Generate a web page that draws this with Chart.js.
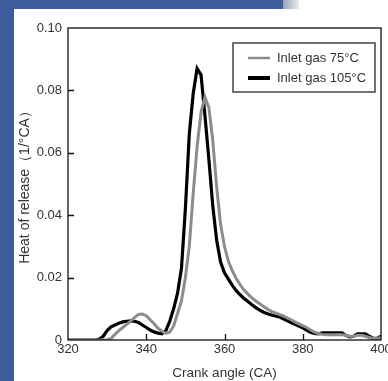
<!DOCTYPE html>
<html>
<head>
<meta charset="utf-8">
<script src="https://cdn.jsdelivr.net/npm/chart.js@4.4.1/dist/chart.umd.min.js"></script>
<style>
  html, body { margin: 0; padding: 0; width: 388px; height: 381px; overflow: hidden; background: #fff; }
  #left { position: absolute; left: 0; top: 0; width: 14px; height: 381px; background: #3d5c9c; }
  #top { position: absolute; left: 0; top: 0; width: 283px; height: 9px; background: #3d5c9c; }
  #fade { position: absolute; left: 283px; top: 0; width: 16px; height: 9px; background: linear-gradient(to right, #98a2b8, #ececec); }
  #wrap { position: absolute; left: 0; top: 0; width: 400px; height: 381px; }
</style>
</head>
<body>
<div id="left"></div>
<div id="top"></div>
<div id="fade"></div>
<div id="wrap"><canvas id="hrr" width="400" height="381"></canvas></div>
<script>
// crank angle (deg CA)
const crankAngles = [
  320, 321, 322, 323, 324, 325, 326, 327, 328, 329,
  330, 331, 332, 333, 334, 335, 336, 337, 338, 339,
  340, 341, 342, 343, 344, 345, 346, 347, 348, 349,
  350, 351, 352, 353, 354, 355, 356, 357, 358, 359,
  360, 361, 362, 363, 364, 365, 366, 367, 368, 369,
  370, 371, 372, 373, 374, 375, 376, 377, 378, 379,
  380, 381, 382, 383, 384, 385, 386, 387, 388, 389,
  390, 391, 392, 393, 394, 395, 396, 397, 398, 399, 400
];

// heat of release, inlet gas 75 C
const inlet75 = [
  0, 0, 0, 0, 0, 0, 0, 0, 0, 0,
  0, 0.0005, 0.0018, 0.0030, 0.0040, 0.0050, 0.0060, 0.0072, 0.0082, 0.0083,
  0.0078, 0.0065, 0.0052, 0.0038, 0.0028, 0.0022, 0.0025, 0.0045, 0.0085, 0.0125,
  0.0200, 0.0300, 0.0470, 0.0620, 0.0730, 0.0778, 0.0745, 0.0640, 0.0490, 0.0370,
  0.0300, 0.0252, 0.0222, 0.0197, 0.0177, 0.0160, 0.0147, 0.0135, 0.0125, 0.0116,
  0.0107, 0.0099, 0.0092, 0.0087, 0.0082, 0.0077, 0.0071, 0.0065, 0.0058, 0.0052,
  0.0046, 0.0040, 0.0032, 0.0025, 0.0021, 0.0018, 0.0017, 0.0017, 0.0017, 0.0017,
  0.0017, 0.0015, 0.0012, 0.0012, 0.0015, 0.0015, 0.0012, 0.0008, 0.0005, 0.0005, 0.0008
];

// heat of release, inlet gas 105 C
const inlet105 = [
  0, 0, 0, 0, 0, 0, 0, 0, 0.0003, 0.0012,
  0.0030, 0.0042, 0.0048, 0.0054, 0.0058, 0.0060, 0.0061, 0.0060, 0.0056, 0.0048,
  0.0040, 0.0032, 0.0026, 0.0022, 0.0020, 0.0030, 0.0060, 0.0100, 0.0150, 0.0230,
  0.0420, 0.0660, 0.0790, 0.0870, 0.0850, 0.0720, 0.0580, 0.0430, 0.0320, 0.0250,
  0.0215, 0.0195, 0.0175, 0.0158, 0.0145, 0.0133, 0.0123, 0.0113, 0.0104, 0.0096,
  0.0089, 0.0084, 0.0080, 0.0077, 0.0074, 0.0068, 0.0062, 0.0056, 0.0050, 0.0045,
  0.0039, 0.0032, 0.0025, 0.0021, 0.0020, 0.0023, 0.0023, 0.0023, 0.0023, 0.0023,
  0.0023, 0.0015, 0.0010, 0.0012, 0.0020, 0.0020, 0.0020, 0.0012, 0.0005, 0.0005, 0.0012
];

const seriesLabels = ["Inlet gas 75\u00b0C", "Inlet gas 105\u00b0C"];
const xTicks = [320, 340, 360, 380, 400];
const yTicks = [0, 0.02, 0.04, 0.06, 0.08, 0.10];

const tickFont = { family: "Liberation Sans, Arial, sans-serif", size: 13 };

// frame round the plot, inward ticks and the boxed legend
const framePlugin = {
  id: "frame",
  afterDraw(chart) {
    const { ctx, chartArea: a, scales } = chart;
    ctx.save();
    ctx.strokeStyle = "#111";
    ctx.lineWidth = 1.3;
    ctx.strokeRect(a.left, a.top, a.right - a.left, a.bottom - a.top);

    ctx.beginPath();
    scales.y.ticks.forEach((t) => {
      if (t.value <= 0 || t.value >= 0.1) return;
      const py = Math.round(scales.y.getPixelForValue(t.value)) + 0.5;
      ctx.moveTo(a.left, py);
      ctx.lineTo(a.left + 6, py);
    });
    scales.x.ticks.forEach((t) => {
      if (t.value <= 320 || t.value >= 400) return;
      const px = Math.round(scales.x.getPixelForValue(t.value)) + 0.5;
      ctx.moveTo(px, a.bottom);
      ctx.lineTo(px, a.bottom - 6);
    });
    ctx.stroke();

    // legend
    const bx = 233, by = 43, bw = 142, bh = 49;
    ctx.fillStyle = "#fff";
    ctx.fillRect(bx, by, bw, bh);
    ctx.strokeStyle = "#444";
    ctx.lineWidth = 1.5;
    ctx.strokeRect(bx, by, bw, bh);
    ctx.font = "13px Liberation Sans, Arial, sans-serif";
    ctx.textBaseline = "middle";
    ctx.textAlign = "left";
    const rows = [
      { y: 58, color: "#8c8c8c", w: 2.5 },
      { y: 78, color: "#000", w: 4 }
    ];
    chart.data.datasets.forEach((ds, i) => {
      const r = rows[i];
      ctx.strokeStyle = r.color;
      ctx.lineWidth = r.w;
      ctx.beginPath();
      ctx.moveTo(248, r.y);
      ctx.lineTo(270, r.y);
      ctx.stroke();
      ctx.fillStyle = "#333";
      ctx.fillText(ds.label, 277, r.y);
    });
    ctx.restore();
  }
};

new Chart(document.getElementById("hrr"), {
  type: "line",
  data: {
    datasets: [
      {
        label: seriesLabels[0],
        data: crankAngles.map((x, i) => ({ x: x, y: inlet75[i] })),
        borderColor: "#8c8c8c",
        borderWidth: 3,
        pointRadius: 0,
        tension: 0
      },
      {
        label: seriesLabels[1],
        data: crankAngles.map((x, i) => ({ x: x, y: inlet105[i] })),
        borderColor: "#000",
        borderWidth: 3.2,
        pointRadius: 0,
        tension: 0
      }
    ]
  },
  options: {
    responsive: false,
    animation: false,
    layout: { padding: { top: 28, right: 19, left: 0, bottom: 0 } },
    plugins: { legend: { display: false }, tooltip: { enabled: false } },
    scales: {
      x: {
        type: "linear",
        min: 320,
        max: 400,
        afterBuildTicks: (s) => { s.ticks = xTicks.map((v) => ({ value: v })); },
        afterFit: (s) => { s.height = 41; },
        grid: { display: false, drawTicks: false },
        border: { display: false },
        ticks: { color: "#333", font: tickFont, padding: 2, maxRotation: 0 },
        title: {
          display: true,
          text: "Crank angle (CA)",
          color: "#333",
          font: { family: "Liberation Sans, Arial, sans-serif", size: 13.5 },
          padding: { top: 0, bottom: 0 }
        }
      },
      y: {
        min: 0,
        max: 0.1,
        afterBuildTicks: (s) => { s.ticks = yTicks.map((v) => ({ value: v })); },
        afterFit: (s) => { s.width = 68; },
        grid: { display: false, drawTicks: false },
        border: { display: false },
        ticks: {
          color: "#333",
          font: tickFont,
          padding: 6,
          callback: (v) => (v === 0 ? "0" : v.toFixed(2))
        },
        title: {
          display: true,
          text: "Heat of release\uff081/\u00b0CA\uff09",
          color: "#333",
          font: { family: "Liberation Sans, Arial, sans-serif", size: 14 },
          padding: { top: 17, bottom: 0 }
        }
      }
    }
  },
  plugins: [framePlugin]
});
</script>
</body>
</html>
